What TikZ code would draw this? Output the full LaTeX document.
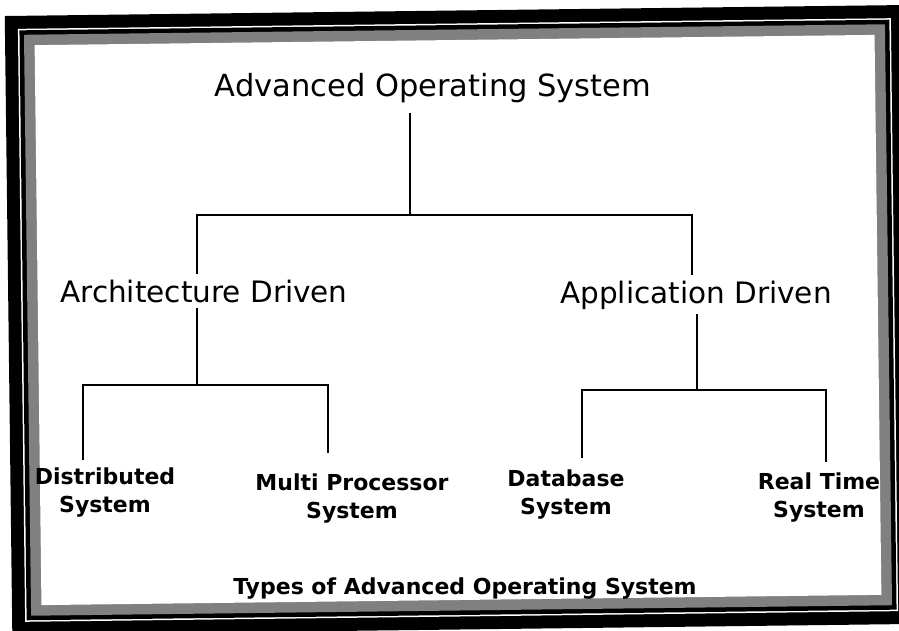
\documentclass[tikz,border=0pt]{standalone}
\usepackage{fontspec}
\setmainfont{DejaVu Sans}
\begin{document}
\begin{tikzpicture}[x=1pt,y=-1pt,
  wire/.style={line width=1.9pt, line join=miter},
  headlabel/.style={font=\fontsize{29.5}{35}\selectfont, inner sep=5pt, anchor=base},
  leaflabel/.style={font=\bfseries\fontsize{22}{28}\selectfont, align=center, inner sep=0pt, anchor=north},
  captionlabel/.style={font=\bfseries\fontsize{22}{26}\selectfont, inner sep=0pt, anchor=base}]

\useasboundingbox (0,0) rectangle (899,631);
\fill[white] (0,0) rectangle (899,631);

% double frame with a grey inner band, slightly tilted
\begin{scope}
  \clip (0,0) rectangle (899,631);
  \begin{scope}[shift={(458,320)}, rotate=0.7]
    \fill[black]    (-449.5,-309.5) rectangle (449.5,309.5);
    \fill[white]    (-436.5,-296.5) rectangle (436.5,296.5);
    \fill[black]    (-435,-295)     rectangle (435,295);
    \fill[black!50] (-430.5,-290.5) rectangle (430.5,290.5);
    \fill[white]    (-420,-280)     rectangle (420,280);
  \end{scope}
\end{scope}

% labels
\node[headlabel, font=\fontsize{30.5}{36}\selectfont] (root) at (433,97) {Advanced Operating System};
\node[headlabel] (arch) at (204,302) {Architecture Driven};
\node[headlabel] (appl) at (696,303) {Application Driven};
\node[leaflabel] (dist) at (105,468) {Distributed\\System};
\node[leaflabel] (mps)  at (352,474) {Multi Processor\\System};
\node[leaflabel] (dbs)  at (566,470) {Database\\System};
\node[leaflabel] (rts)  at (819,473) {Real Time\\System};
\node[captionlabel] (cap) at (465,594) {Types of Advanced Operating System};

% junction points of the tree
\coordinate (j0)  at (410,215);
\coordinate (jA)  at (197,215);
\coordinate (jB)  at (692,215);
\coordinate (kA)  at (197,385);
\coordinate (kA1) at (83,385);
\coordinate (kA2) at (328,385);
\coordinate (kB)  at (697,390);
\coordinate (kB1) at (582,390);
\coordinate (kB2) at (826,390);

% connectors
\draw[wire, shorten <=4pt] (root.south -| j0) -- (j0);
\draw[wire] (jA |- arch.north) -- (jA) -- (jB) -- (jB |- appl.north);
\draw[wire] (kA |- arch.south) -- (kA);
\draw[wire, shorten <=8pt, shorten >=21pt] (kA1 |- dist.north) -- (kA1) -- (kA2) -- (kA2 |- mps.north);
\draw[wire] (kB |- appl.south) -- (kB);
\draw[wire, shorten <=12pt, shorten >=11pt] (kB1 |- dbs.north) -- (kB1) -- (kB2) -- (kB2 |- rts.north);
\end{tikzpicture}
\end{document}
